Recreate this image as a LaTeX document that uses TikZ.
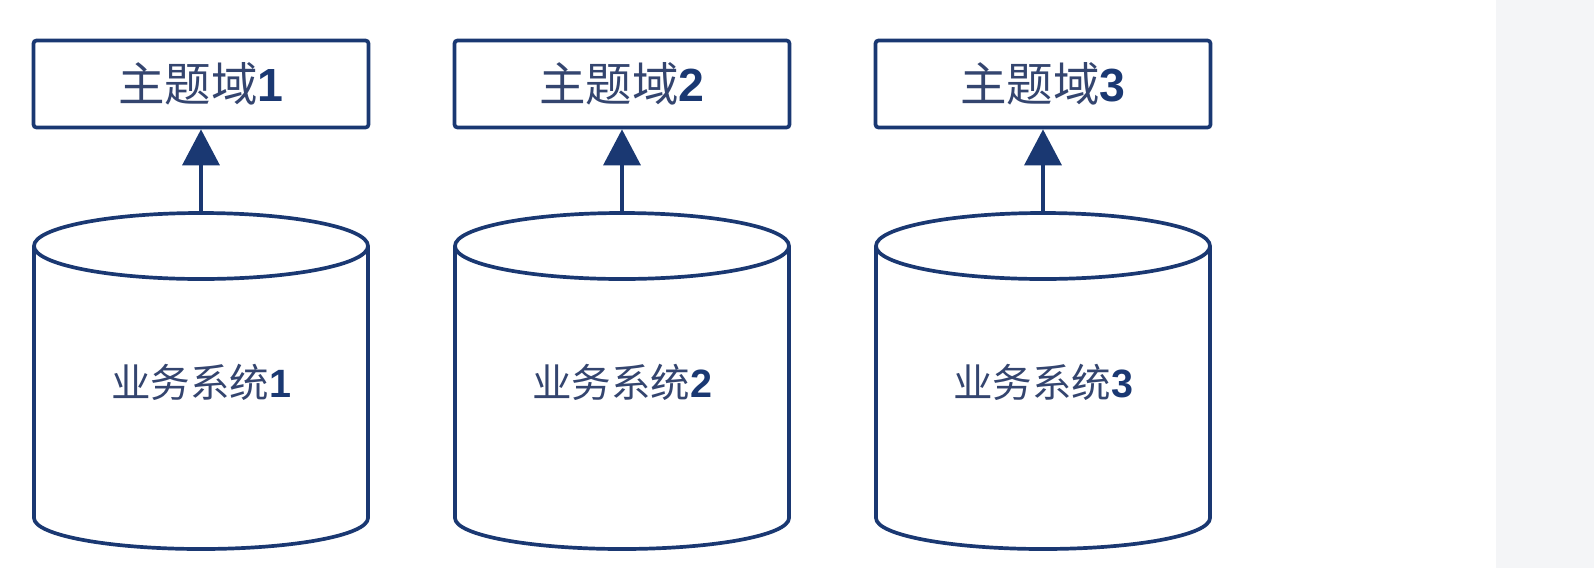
\documentclass[tikz,border=0pt]{standalone}
\usepackage{fontspec}
\setmainfont{Liberation Sans}
\newfontfamily\cjk{Noto Sans CJK SC}
\usetikzlibrary{arrows.meta}
\definecolor{navy}{HTML}{1A3872}
\definecolor{txt}{HTML}{34456F}
\definecolor{panel}{HTML}{F4F5F7}
\tikzset{
  topicbox/.style={draw=navy, line width=3.7pt, rounded corners=3pt, minimum width=335pt, minimum height=87pt, inner sep=0pt, text=txt, font=\fontsize{46.5}{50}\selectfont},
  cyl/.style={draw=navy, line width=3.7pt},
  cyllabel/.style={text=txt, font=\fontsize{39.5}{42}\selectfont, inner sep=0pt},
  uparrow/.style={draw=navy, line width=3.5pt, -{Triangle[length=36pt, width=37pt]}}
}
\begin{document}
\begin{tikzpicture}[x=1pt,y=-1pt]
\useasboundingbox (0,0) rectangle (1594,568);
\fill[panel] (1496,0) rectangle (1594,568);
\foreach \i/\x in {1/201, 2/622, 3/1043}{
  \node[topicbox] (box\i) at (\x,84) {\raisebox{-1.5pt}{{\cjk 主题域}\textcolor{navy}{\bfseries\i}}};
  \draw[cyl] (\x,246) ellipse [x radius=167pt, y radius=33pt];
  \draw[cyl] (\x-167,246) -- (\x-167,518) arc[start angle=180, end angle=360, x radius=167pt, y radius=31pt] -- (\x+167,246);
  \coordinate (top\i) at (\x,213);
  \node[cyllabel] (sys\i) at (\x,382) {{\cjk 业务系统}\textcolor{navy}{\bfseries\i}};
  \draw[uparrow] (top\i) -- (box\i.south);
}
\end{tikzpicture}
\end{document}
